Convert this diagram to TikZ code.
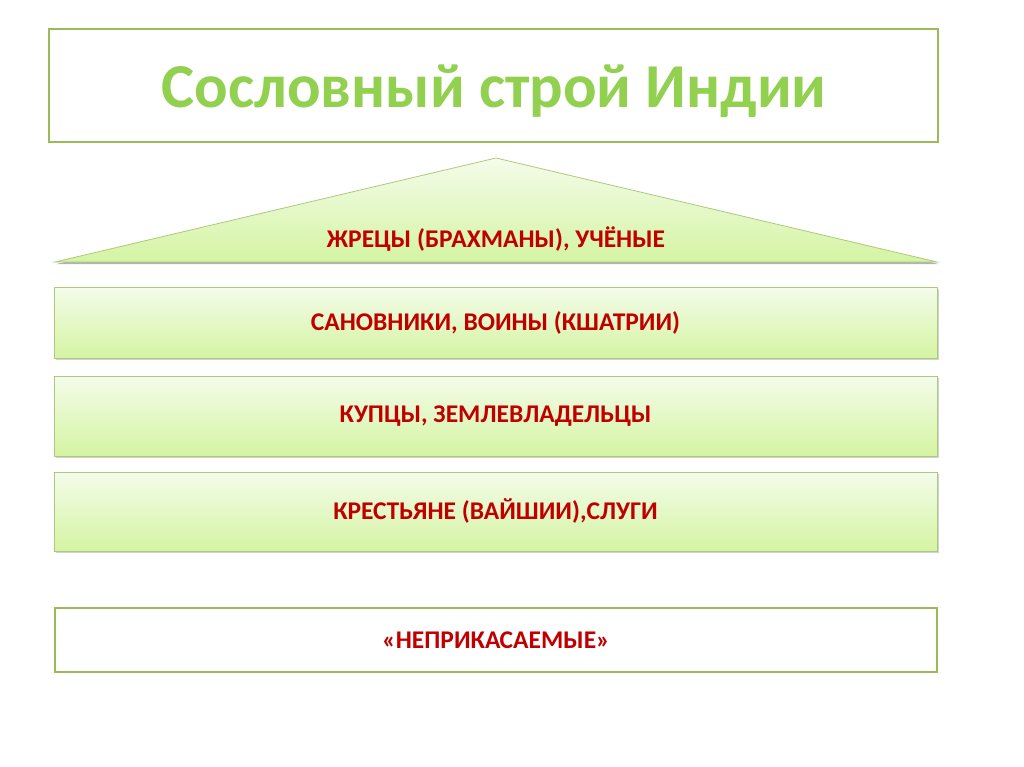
\documentclass[tikz,border=0pt]{standalone}
\usepackage{fontspec}
\setmainfont{Carlito}
\usetikzlibrary{shadows}
\definecolor{ttlgreen}{RGB}{146,208,80}
\definecolor{rimgreen}{RGB}{155,187,89}
\definecolor{tiertop}{RGB}{244,252,234}
\definecolor{tierbot}{RGB}{212,244,162}
\definecolor{castered}{RGB}{192,0,0}

\tikzset{
  tierbox/.style={draw=rimgreen!80, line width=0.8pt, top color=tiertop, bottom color=tierbot,
    minimum width=883pt, inner sep=0pt,
    drop shadow={shadow xshift=1.5pt, shadow yshift=-2pt, opacity=0.35},
    font=\fontsize{25.5}{30}\selectfont\bfseries, text=castered},
  framebox/.style={draw=rimgreen, line width=2.8pt, fill=white, inner sep=0pt}
}

\begin{document}
\begin{tikzpicture}[x=1pt,y=-1pt]
\useasboundingbox[fill=white] (0,0) rectangle (1024,767);

% Title
\node[framebox, minimum width=889pt, minimum height=113pt] (title) at (493.5,85.5) {};
\node[text=ttlgreen, font=\fontsize{62.5}{70}\selectfont\bfseries] (heading) at (494,91) {Сословный строй Индии};

% Roof
\coordinate (apex) at (496,158);
\coordinate (eaveL) at (55,262);
\coordinate (eaveR) at (937,262);
\fill[black, opacity=0.3] ([xshift=1.5pt,yshift=-2pt]apex) -- ([xshift=1.5pt,yshift=-2pt]eaveR) -- ([xshift=1.5pt,yshift=-2pt]eaveL) -- cycle;
\draw[draw=rimgreen!80, line width=0.8pt, top color=tiertop, bottom color=tierbot]
  (apex) -- (eaveR) -- (eaveL) -- cycle;
\node[font=\fontsize{25.5}{30}\selectfont\bfseries, text=castered] (brahmins) at (496,239) {ЖРЕЦЫ (БРАХМАНЫ), УЧЁНЫЕ};

% Tiers
\node[tierbox, minimum height=71pt] (kshatriya) at (495.5,322.5) {САНОВНИКИ, ВОИНЫ (КШАТРИИ)};
\node[tierbox, minimum height=80pt] (merchants) at (495.5,416) {КУПЦЫ, ЗЕМЛЕВЛАДЕЛЬЦЫ};
\node[tierbox, minimum height=79pt] (vaishya) at (495.5,511.5) {КРЕСТЬЯНЕ (ВАЙШИИ),СЛУГИ};

% Outcasts
\node[framebox, minimum width=882pt, minimum height=64pt, text=castered,
  font=\fontsize{25.5}{30}\selectfont\bfseries] (outcasts) at (496,640) {«НЕПРИКАСАЕМЫЕ»};
\end{tikzpicture}
\end{document}
